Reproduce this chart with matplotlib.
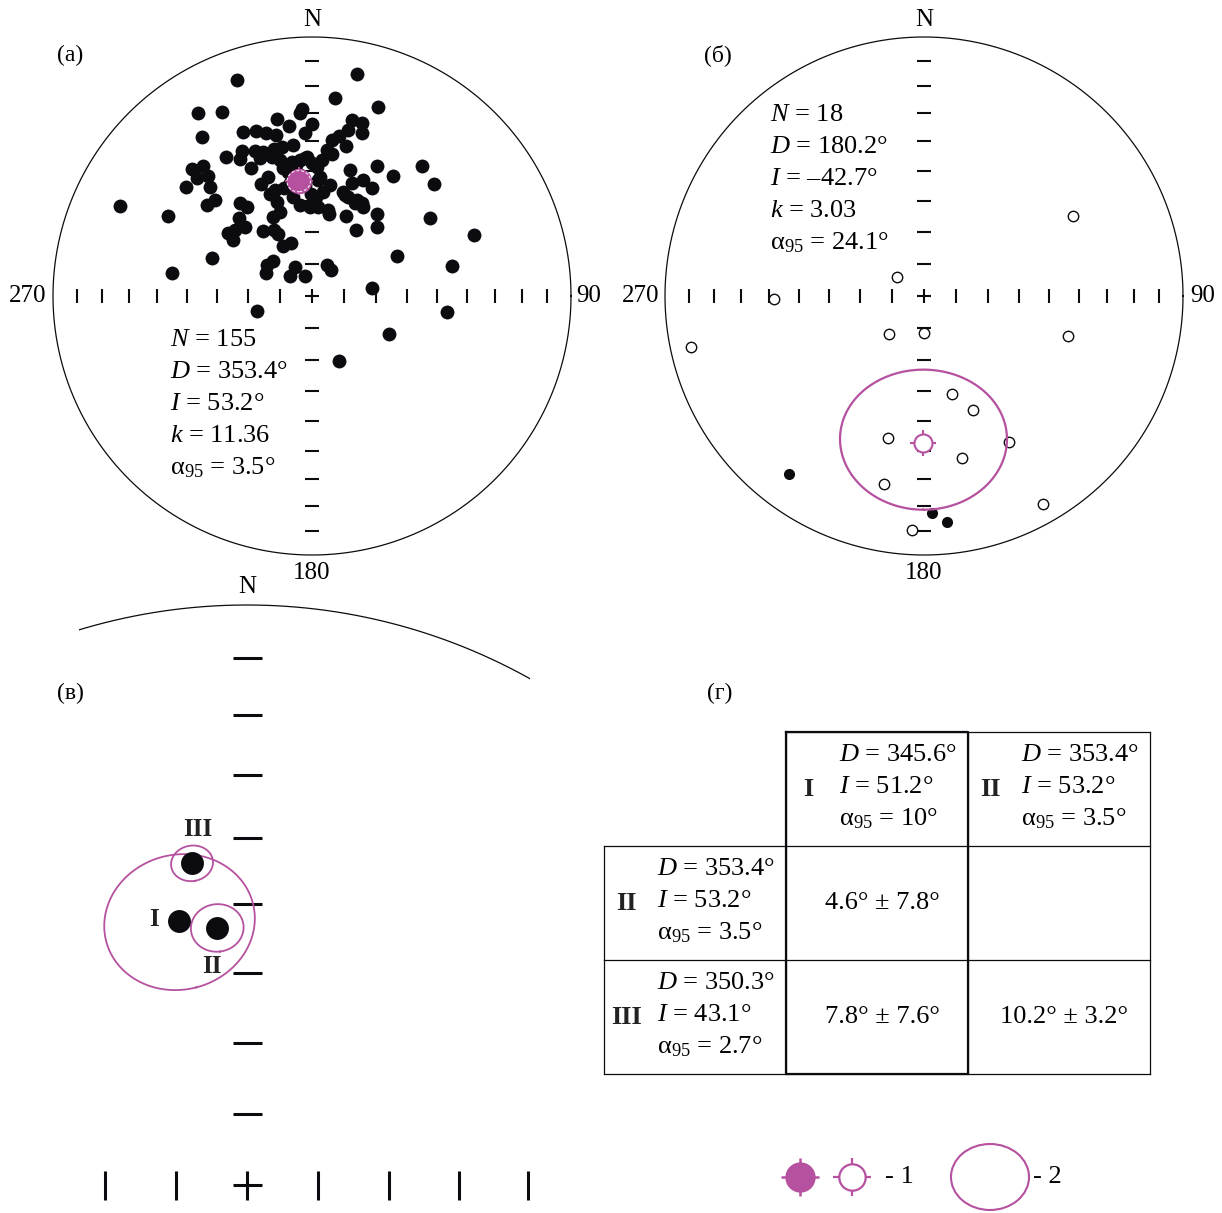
import numpy as np
import matplotlib
matplotlib.use("Agg")
import matplotlib.pyplot as plt
from matplotlib.patches import Ellipse

W, H = 1222, 1213
PURPLE = "#b5519f"
INK = "#0b0b10"

plt.rcParams["font.family"] = ["Liberation Serif", "DejaVu Serif"]
plt.rcParams["mathtext.fontset"] = "custom"
plt.rcParams["mathtext.rm"] = "Liberation Serif"
plt.rcParams["mathtext.it"] = "Liberation Serif:italic"
plt.rcParams["mathtext.bf"] = "Liberation Serif:bold"

# (а) individual sample directions, equal-area net coordinates (east, north), lower hemisphere
a_east = [-0.290, 0.174, 0.089, 0.255, -0.440, -0.347, -0.039, -0.046, -0.135, -0.089,
          0.000, -0.027, -0.425, -0.266, -0.216, -0.178, -0.139, 0.154, 0.193, 0.139,
          0.193, 0.104, 0.077, 0.131, 0.058, 0.077, -0.073, -0.116, -0.147, -0.270,
          -0.278, -0.220, -0.189, -0.154, -0.201, -0.124, -0.332, -0.236, -0.421, -0.463,
          -0.444, -0.402, -0.486, -0.394, -0.741, -0.556, -0.541, -0.386, -0.405, -0.375,
          -0.278, -0.251, -0.282, -0.259, -0.324, -0.305, -0.297, -0.189, -0.147, -0.131,
          -0.112, -0.081, -0.151, -0.124, -0.135, -0.162, -0.143, -0.197, -0.170, -0.112,
          -0.077, -0.046, -0.019, 0.019, 0.000, 0.023, 0.069, 0.042, -0.004, -0.008,
          0.023, 0.062, 0.066, 0.131, 0.170, 0.251, 0.251, 0.147, 0.251, 0.313,
          0.197, 0.154, 0.120, 0.139, 0.166, 0.193, 0.197, 0.232, 0.425, 0.471,
          0.456, 0.625, 0.328, 0.541, 0.058, 0.073, -0.066, -0.085, -0.027, -0.178,
          -0.174, -0.151, 0.232, -0.212, 0.521, 0.297, 0.104,
          -0.027, 0.031, 0.127, 0.174, -0.062, -0.093, -0.046, -0.027, -0.108, -0.073,
          -0.046, 0.015, 0.039, -0.085]
a_north = [0.834, 0.857, 0.764, 0.730, 0.707, 0.710, 0.722, 0.707, 0.683, 0.656,
           0.664, 0.629, 0.614, 0.633, 0.637, 0.629, 0.622, 0.680, 0.668, 0.641,
           0.629, 0.618, 0.602, 0.579, 0.564, 0.548, 0.583, 0.575, 0.568, 0.560,
           0.529, 0.560, 0.556, 0.537, 0.533, 0.525, 0.537, 0.494, 0.502, 0.490,
           0.456, 0.463, 0.421, 0.421, 0.347, 0.309, 0.089, 0.147, 0.351, 0.371,
           0.359, 0.344, 0.301, 0.266, 0.243, 0.216, 0.255, 0.251, 0.255, 0.239,
           0.193, 0.205, 0.305, 0.324, 0.363, 0.394, 0.409, 0.432, 0.459, 0.494,
           0.517, 0.525, 0.537, 0.498, 0.514, 0.448, 0.429, 0.402, 0.394, 0.344,
           0.344, 0.332, 0.317, 0.309, 0.255, 0.317, 0.266, 0.486, 0.502, 0.463,
           0.448, 0.436, 0.402, 0.382, 0.359, 0.359, 0.344, 0.417, 0.502, 0.432,
           0.301, 0.236, 0.154, 0.116, 0.120, 0.100, 0.112, 0.077, 0.077, 0.089,
           0.120, 0.135, 0.031, -0.058, -0.062, -0.147, -0.251,
           0.533, 0.459, 0.390, 0.371, 0.506, 0.479, 0.467, 0.429, 0.417, 0.382,
           0.351, 0.382, 0.525, 0.436]
a_N, a_D, a_I, a_k, a_a95 = 155, 353.4, 53.2, 11.36, 3.5

# (б) directions: open = upper hemisphere, filled = lower hemisphere
b_open_east = [0.574, -0.105, -0.578, -0.900, -0.136, 0.000, 0.557, 0.108, 0.190, -0.139,
               0.327, 0.147, -0.154, 0.458, -0.046]
b_open_north = [0.309, 0.072, -0.012, -0.198, -0.148, -0.144, -0.153, -0.378, -0.440, -0.547,
                -0.564, -0.624, -0.725, -0.804, -0.903]
b_fill_east = [-0.520, 0.031, 0.088]
b_fill_north = [-0.687, -0.839, -0.871]
b_N, b_D, b_I, b_k, b_a95 = 18, 180.2, -42.7, 3.03, 24.1

# (в) / (г) mean directions
sites = ["I", "II", "III"]
site_D = [345.6, 353.4, 350.3]
site_I = [51.2, 53.2, 43.1]
site_a95 = [10.0, 3.5, 2.7]

# (г) angular distance between means: rows II, III vs columns I, II
gamma_rows = ["II", "III"]
gamma_cols = ["I", "II"]
gamma_val = [[4.6, None], [7.8, 10.2]]
gamma_err = [[7.8, None], [7.6, 3.2]]


def eqarea(dec, inc):
    dec = np.radians(dec)
    inc = np.radians(np.abs(inc))
    r = np.sqrt(2) * np.sin((np.pi / 2 - inc) / 2)
    return r * np.sin(dec), r * np.cos(dec)


def small_circle(dec, inc, a, n=240):
    d, i, a = np.radians([dec, inc, a])
    v = np.array([np.cos(i) * np.cos(d), np.cos(i) * np.sin(d), np.sin(i)])
    u1 = np.array([-np.sin(i) * np.cos(d), -np.sin(i) * np.sin(d), np.cos(i)])
    u2 = np.cross(v, u1)
    t = np.linspace(0, 2 * np.pi, n)
    p = np.cos(a) * v[:, None] + np.sin(a) * (np.cos(t) * u1[:, None] + np.sin(t) * u2[:, None])
    pd = np.degrees(np.arctan2(p[1], p[0]))
    pi = np.degrees(np.arcsin(np.clip(p[2], -1, 1)))
    return eqarea(pd, pi)


fig = plt.figure(figsize=(W / 100, H / 100), dpi=100)


def net_axes(cx, cy, R, x0, x1, y0, y1):
    ax = fig.add_axes([x0 / W, 1 - y1 / H, (x1 - x0) / W, (y1 - y0) / H])
    ax.set_xlim((x0 - cx) / R, (x1 - cx) / R)
    ax.set_ylim((cy - y1) / R, (cy - y0) / R)
    ax.axis("off")
    return ax


def draw_net(ax, lw_circle, lw_tick, h=0.027):
    t = np.linspace(0, 2 * np.pi, 720)
    ax.plot(np.cos(t), np.sin(t), color=INK, lw=lw_circle)
    _, rr = eqarea(0, np.arange(80, 0, -10))
    for r in rr:
        for s in (-1, 1):
            ax.plot([s * r, s * r], [-h, h], color=INK, lw=lw_tick, solid_capstyle="butt")
            ax.plot([-h, h], [s * r, s * r], color=INK, lw=lw_tick, solid_capstyle="butt")
    ax.plot([-h, h], [0, 0], color=INK, lw=lw_tick, solid_capstyle="butt")
    ax.plot([0, 0], [-h, h], color=INK, lw=lw_tick, solid_capstyle="butt")


def crosshair(ax, x, y, filled, ms_disk, ms_plus, lw):
    ax.plot(x, y, marker="+", ms=ms_plus, mew=lw, color=PURPLE, zorder=5)
    ax.plot(x, y, marker="o", ms=ms_disk, mfc=PURPLE if filled else "white",
            mec=PURPLE, mew=lw, zorder=6)


def stats_lines(N, D, I, k, a95):
    return [f"$N$ = {N}", f"$D$ = {D:.1f}°", f"$I$ = {I:.1f}°".replace("-", "–"),
            f"$k$ = {k:.2f}", f"α$_{{95}}$ = {a95:.1f}°"]


FS = 19

# ---- (а)
ax_a = net_axes(312, 296, 259, 0, 612, 0, 600)
draw_net(ax_a, 0.9, 1.5)
ax_a.plot(a_east, a_north, "o", ms=10, color=INK, mec="none", zorder=3)
mx, my = eqarea(a_D, a_I)
crosshair(ax_a, mx, my, True, 17, 20, 1.3)
cx_, cy_ = small_circle(a_D, a_I, a_a95)
ax_a.plot(cx_, cy_, color="white", lw=0.7, ls=(0, (3, 2)), zorder=7)
ax_a.text(0, 1.066, "N", ha="center", va="center", fontsize=18)
ax_a.text(1.07, 0, "90", ha="center", va="center", fontsize=18)
ax_a.text(0, -1.07, "180", ha="center", va="center", fontsize=18)
ax_a.text(-1.097, 0, "270", ha="center", va="center", fontsize=18)
for j, line in enumerate(stats_lines(a_N, a_D, a_I, a_k, a_a95)):
    ax_a.text(-0.548, -0.170 - j * 0.1236, line, ha="left", va="center", fontsize=FS)

# ---- (б)
ax_b = net_axes(924, 296, 259, 612, 1222, 0, 600)
draw_net(ax_b, 0.9, 1.5)
ax_b.plot(b_open_east, b_open_north, "o", ms=7.5, mfc="white", mec=INK, mew=1.0, zorder=3)
ax_b.plot(b_fill_east, b_fill_north, "o", ms=8, color=INK, mec="none", zorder=3)
ex, ey = small_circle(b_D, b_I, b_a95)
ax_b.plot(ex, ey, color=PURPLE, lw=1.6, zorder=4)
mx, my = eqarea(b_D, b_I)
crosshair(ax_b, mx, my, False, 13, 19, 1.5)
ax_b.text(0, 1.066, "N", ha="center", va="center", fontsize=18)
ax_b.text(1.077, 0, "90", ha="center", va="center", fontsize=18)
ax_b.text(0, -1.07, "180", ha="center", va="center", fontsize=18)
ax_b.text(-1.093, 0, "270", ha="center", va="center", fontsize=18)
for j, line in enumerate(stats_lines(b_N, b_D, b_I, b_k, b_a95)):
    ax_b.text(-0.595, 0.699 - j * 0.1236, line, ha="left", va="center", fontsize=FS)

# ---- (в) enlarged part of the net
ax_c = net_axes(247, 1185, 580, 79, 530, 575, 1213)
draw_net(ax_c, 0.9, 2.2, h=0.025)
ax_c.text(0, 1.031, "N", ha="center", va="center", fontsize=18)
label_offsets = {"I": (-18, 1), "II": (-4, -28), "III": (4, 24)}
for name, d, i, a95 in zip(sites, site_D, site_I, site_a95):
    sx, sy = small_circle(d, i, a95)
    ax_c.plot(sx, sy, color=PURPLE, lw=1.3, zorder=4)
    px, py = eqarea(d, i)
    ax_c.plot(px, py, "o", ms=16.5, color=INK, mec="none", zorder=5)
    ax_c.annotate(name, (px, py), xytext=label_offsets[name], textcoords="offset points",
                  ha="center", va="center", fontsize=18, fontweight="bold", color="#222222")

# ---- (г) table
ax_t = fig.add_axes([604 / W, 1 - 1074 / H, 546 / W, 342 / H])
ax_t.set_xlim(0, 3)
ax_t.set_ylim(3, 0)
ax_t.axis("off")
lw_t = 0.9
ax_t.plot([1, 3], [0, 0], color=INK, lw=lw_t, clip_on=False)
for yy in (1, 2, 3):
    ax_t.plot([0, 3], [yy, yy], color=INK, lw=lw_t, clip_on=False)
ax_t.plot([0, 0], [1, 3], color=INK, lw=lw_t, clip_on=False)
for xx in (1, 2, 3):
    ax_t.plot([xx, xx], [0, 3], color=INK, lw=lw_t, clip_on=False)
ax_t.plot([1, 2, 2, 1, 1], [0, 0, 3, 3, 0], color=INK, lw=1.6, clip_on=False)


def mean_cell(ax, x0, y0, name):
    k = sites.index(name)
    ax.text(x0 + 0.125, y0 + 0.5, name, ha="center", va="center", fontsize=FS,
            fontweight="bold", color="#222222")
    lines = [f"$D$ = {site_D[k]:.1f}°", f"$I$ = {site_I[k]:.1f}°", f"α$_{{95}}$ = {site_a95[k]:g}°"]
    for j, (line, dy) in enumerate(zip(lines, (0.2, 0.48, 0.76))):
        ax.text(x0 + 0.29, y0 + dy, line, ha="left", va="center", fontsize=FS)


for c, name in enumerate(gamma_cols):
    mean_cell(ax_t, 1 + c, 0, name)
for r, name in enumerate(gamma_rows):
    mean_cell(ax_t, 0, 1 + r, name)
    for c in range(len(gamma_cols)):
        if gamma_val[r][c] is not None:
            ax_t.text(1 + c + 0.53, 1 + r + 0.5, f"{gamma_val[r][c]:.1f}° ± {gamma_err[r][c]:.1f}°",
                      ha="center", va="center", fontsize=FS)

# ---- overlay: panel letters and legend
ax_o = fig.add_axes([0, 0, 1, 1])
ax_o.set_xlim(0, W)
ax_o.set_ylim(H, 0)
ax_o.axis("off")
for txt, x, y in [("(а)", 70, 55), ("(б)", 718, 55), ("(в)", 70, 693), ("(г)", 720, 693)]:
    ax_o.text(x, y, txt, ha="center", va="center", fontsize=17)
crosshair(ax_o, 800, 1177, True, 20, 27, 1.8)
crosshair(ax_o, 852, 1177, False, 19, 27, 1.6)
ax_o.text(885, 1177, "- 1", ha="left", va="center", fontsize=FS)
ax_o.add_patch(Ellipse((990, 1177), 78, 66, fill=False, ec=PURPLE, lw=1.5))
ax_o.text(1033, 1177, "- 2", ha="left", va="center", fontsize=FS)

fig.savefig("out.png", dpi=100)
